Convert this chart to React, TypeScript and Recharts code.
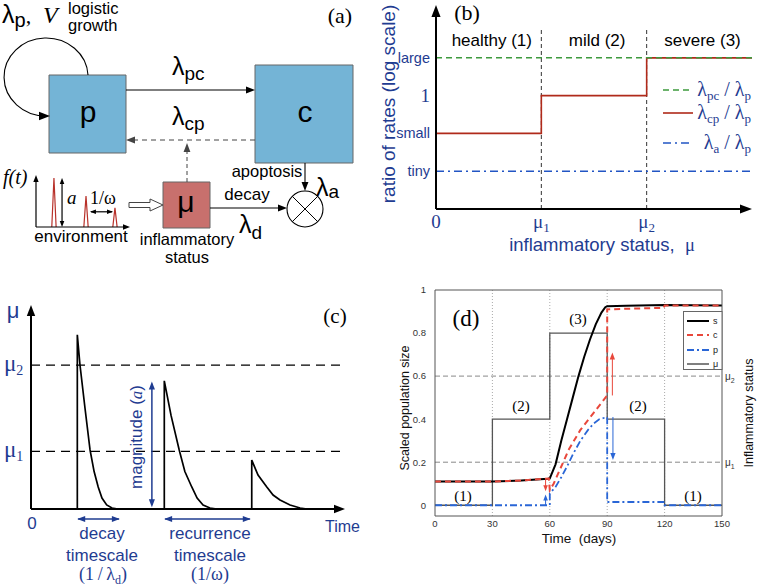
import React from 'react';
import {
  ComposedChart, Line, XAxis, YAxis, ReferenceLine, ReferenceDot, ReferenceArea, Legend,
} from 'recharts';

const W = 757;
const H = 588;
const SANS = '"Liberation Sans", Arial, Helvetica, sans-serif';
const SERIF = '"Liberation Serif", "Times New Roman", serif';
const NAVY = '#1f3c91';
const GREEN = '#3d9a3d';
const DARKRED = '#b02a1a';
const BBLUE = '#2255c4';
const DRED = '#e8473b';
const DBLUE = '#2a66d6';
const BOXBLUE = '#74b4d6';
const BOXRED = '#c8706d';

// ---------------- Panel (b) data ----------------
const bMu = [0, 1, 2, 3];
const bRatioPc = [10, 10, 10, 10];
const bRatioCp = [0.1, 1, 10, 10];
const bRatioA = [0.01, 0.01, 0.01, 0.01];
const bTicksY = [0.01, 0.1, 1, 10];
const bTickLabelsY = ['tiny', 'small', '1', 'large'];
const bTicksX = [0, 1, 2];
const bRegionLabels = ['healthy (1)', 'mild (2)', 'severe (3)'];
const bRegionCenters = [0.53, 1.53, 2.53];

// ---------------- Panel (c) data ----------------
const cTime = [0, 1.475, 1.475, 1.56, 1.72, 1.88, 2.01, 2.14, 2.26, 2.41, 2.58, 2.77,
  4.245, 4.245, 4.46, 4.72, 4.9, 5.12, 5.29, 5.48, 5.7, 5.92,
  7.03, 7.03, 7.23, 7.51, 7.71, 7.93, 8.25, 8.57, 8.79, 9.6];
const cMu = [0, 0, 1.21, 1.0, 0.7, 0.41, 0.26, 0.153, 0.076, 0.028, 0.007, 0,
  0, 0.89, 0.65, 0.41, 0.26, 0.153, 0.076, 0.028, 0.007, 0,
  0, 0.34, 0.236, 0.153, 0.097, 0.063, 0.028, 0.007, 0, 0];
const cThresholds = [0.4, 1.0];

// ---------------- Panel (a) environment inset ----------------
const ftT = [1.68, 1.91, 2.14, 3.5, 5.09, 5.32, 5.55, 7.0, 8.17, 8.4, 8.63];
const ftV = [0, 1.0, 0, null, 0, 0.63, 0, null, 0, 0.39, 0];

// ---------------- Panel (d) data ----------------
const dTicksX = [0, 30, 60, 90, 120, 150];
const dTicksY = [0, 0.2, 0.4, 0.6, 0.8, 1];
const dMuT = [0, 30, 60, 90, 120, 150];
const dMuV = [0, 0.4, 0.8, 0.4, 0, 0];
const dST = [0, 30, 45, 59, 60, 63, 66, 69, 72, 75, 78, 81, 84, 87, 89, 90, 100, 120, 150];
const dSV = [0.11, 0.11, 0.115, 0.123, 0.125, 0.19, 0.3, 0.4, 0.5, 0.6, 0.69, 0.77, 0.84, 0.895, 0.92, 0.925, 0.927, 0.93, 0.928];
const dCT = [0, 30, 45, 59.5, 60, 62, 65, 70, 76, 83, 90, 90, 100, 119.5, 120, 150];
const dCV = [0.11, 0.11, 0.115, 0.124, 0.07, 0.1, 0.16, 0.26, 0.35, 0.43, 0.51, 0.91, 0.913, 0.917, 0.928, 0.928];
const dPT = [0, 60, 60, 63, 66, 69, 72, 76, 80, 83, 86, 90, 90, 120, 120, 150];
const dPV = [0, 0, 0.055, 0.085, 0.13, 0.18, 0.235, 0.3, 0.35, 0.38, 0.4, 0.41, 0.015, 0.015, 0, 0];
const dThresholds = [0.2, 0.6];
const dRightLabels = ['1', '2'];

// ---------------- helpers ----------------
function txt(key: string, x: number, y: number, content: React.ReactNode, attrs: Record<string, any> = {}, rot = 0) {
  return (
    <ReferenceDot
      key={key} x={x} y={y} r={0} ifOverflow="visible"
      shape={(p: any) => (
        <text
          x={p.cx} y={p.cy} fontFamily={SANS} fontSize={17} fill="#000"
          transform={rot ? `rotate(${rot} ${p.cx} ${p.cy})` : undefined}
          {...attrs}
        >{content}</text>
      )}
    />
  );
}

function seg(key: string, x1: number, y1: number, x2: number, y2: number, stroke = '#000', width = 1, dash?: string) {
  return (
    <ReferenceLine
      key={key} segment={[{ x: x1, y: y1 }, { x: x2, y: y2 }]}
      stroke={stroke} strokeWidth={width} strokeDasharray={dash} ifOverflow="visible"
    />
  );
}

function head(key: string, x: number, y: number, angle: number, color = '#000', size = 9) {
  return (
    <ReferenceDot
      key={key} x={x} y={y} r={0} ifOverflow="visible"
      shape={(p: any) => (
        <polygon
          points={`0,0 ${-size},${-size * 0.38} ${-size},${size * 0.38}`}
          transform={`translate(${p.cx},${p.cy}) rotate(${angle})`}
          fill={color}
        />
      )}
    />
  );
}

const layer: React.CSSProperties = { position: 'absolute', left: 0, top: 0 };

// ---------------- Panel (b) ----------------
function BYTick(p: any) {
  const v = p.payload.value;
  let idx = 0;
  bTicksY.forEach((t, i) => { if (Math.abs(Math.log10(t) - Math.log10(v)) < 0.01) idx = i; });
  const lab = bTickLabelsY[idx];
  const num = lab === '1';
  return (
    <text x={p.x} y={p.y} dy="0.35em" textAnchor="end" fill={NAVY}
      fontFamily={num ? SERIF : SANS} fontSize={num ? 19 : 14.5}>{lab}</text>
  );
}
function BXTick(p: any) {
  const v = p.payload.value;
  if (v === 0) {
    return <text x={p.x} y={p.y} dy="0.71em" textAnchor="middle" fill={NAVY} fontFamily={SERIF} fontSize={19}>0</text>;
  }
  return (
    <text x={p.x} y={p.y} dy="0.71em" textAnchor="middle" fill={NAVY} fontFamily={SERIF} fontSize={19}>
      μ<tspan fontSize={13} dy={4}>{v}</tspan>
    </text>
  );
}

function PanelB() {
  const data = bMu.map((m, i) => ({ m, pc: bRatioPc[i], cp: bRatioCp[i], a: bRatioA[i] }));
  return (
    <div style={layer}>
      <ComposedChart width={W} height={H} data={data} margin={{ top: 5, right: 5, bottom: 349, left: 380 }}>
        <XAxis type="number" dataKey="m" domain={[0, 3]} ticks={bTicksX} axisLine={false} tickLine={false}
          height={30} tickMargin={0} tick={BXTick} allowDataOverflow />
        <YAxis type="number" scale="log" domain={[0.001, 250]} ticks={bTicksY} width={56} axisLine={false}
          tickLine={false} tickMargin={0} tick={BYTick} allowDataOverflow />
        {seg('v1', 1, 0.001, 1, 61, '#333', 1, '4 3')}
        {seg('v2', 2, 0.001, 2, 61, '#333', 1, '4 3')}
        <Line dataKey="cp" type="stepAfter" stroke={DARKRED} strokeWidth={1.6} dot={false} isAnimationActive={false} />
        <Line dataKey="pc" type="linear" stroke={GREEN} strokeWidth={1.5} strokeDasharray="6 4" dot={false} isAnimationActive={false} />
        <Line dataKey="a" type="linear" stroke={BBLUE} strokeWidth={1.5} strokeDasharray="8 4 2 4" dot={false} isAnimationActive={false} />
        {seg('bya', 0, 0.001, 0, 180, '#000', 2)}
        {head('byh', 0, 250, -90, '#000', 12)}
        {seg('bxa', 0, 0.001, 2.93, 0.001, '#000', 2)}
        {head('bxh', 3, 0.001, 0, '#000', 12)}
        {bRegionLabels.map((l, i) => txt('reg' + i, bRegionCenters[i], 20.6, l, { textAnchor: 'middle', fontSize: 17 }))}
        <Legend
          layout="horizontal" verticalAlign="middle" align="center"
          wrapperStyle={{ position: 'absolute', left: 660, top: 78, width: 97, height: 88, margin: 0 }}
          content={() => (
            <svg width={97} height={88} style={{ display: 'block' }}>
              <line x1={3} x2={33} y1={12} y2={12} stroke={GREEN} strokeWidth={1.5} strokeDasharray="6 4" />
              <text x={91} y={18} textAnchor="end" fontFamily={SERIF} fontSize={20} fill={NAVY}>
                λ<tspan fontSize={13} dy={4}>pc</tspan><tspan dy={-4}>{' / λ'}</tspan><tspan fontSize={13} dy={4}>p</tspan>
              </text>
              <line x1={3} x2={33} y1={35} y2={35} stroke={DARKRED} strokeWidth={1.6} />
              <text x={91} y={41} textAnchor="end" fontFamily={SERIF} fontSize={20} fill={NAVY}>
                λ<tspan fontSize={13} dy={4}>cp</tspan><tspan dy={-4}>{' / λ'}</tspan><tspan fontSize={13} dy={4}>p</tspan>
              </text>
              <line x1={3} x2={33} y1={65} y2={65} stroke={BBLUE} strokeWidth={1.5} strokeDasharray="8 4 2 4" />
              <text x={91} y={71} textAnchor="end" fontFamily={SERIF} fontSize={20} fill={NAVY}>
                λ<tspan fontSize={13} dy={4}>a</tspan><tspan dy={-4}>{' / λ'}</tspan><tspan fontSize={13} dy={4}>p</tspan>
              </text>
            </svg>
          )}
        />
      </ComposedChart>
    </div>
  );
}

// ---------------- Panel (c) ----------------
function PanelC() {
  const data = cTime.map((t, i) => ({ t, mu: cMu[i] }));
  return (
    <div style={layer}>
      <ComposedChart width={W} height={H} data={data} margin={{ top: 305, right: 412, bottom: 79, left: 31 }}>
        <XAxis type="number" dataKey="t" domain={[0, 10]} hide allowDataOverflow />
        <YAxis type="number" domain={[0, 1.417]} hide allowDataOverflow />
        {cThresholds.map((v, i) => (
          <ReferenceLine key={'th' + i} y={v} stroke="#000" strokeWidth={1.3} strokeDasharray="9 6" />
        ))}
        <Line dataKey="mu" type="linear" stroke="#000" strokeWidth={1.7} dot={false} isAnimationActive={false} />
        {seg('cya', 0, 0, 0, 1.36, '#000', 2)}
        {head('cyh', 0, 1.417, -90, '#000', 11)}
        {seg('cxa', 0, 0, 9.7, 0, '#000', 2)}
        {head('cxh', 10, 0, 0, '#000', 11)}
        {seg('mag', 3.85, 0.03, 3.85, 0.87, NAVY, 1.5)}
        {head('magt', 3.85, 0.885, -90, NAVY, 8)}
        {head('magb', 3.85, 0.012, 90, NAVY, 8)}
        {seg('dts', 1.5, -0.069, 2.8, -0.069, NAVY, 1.5)}
        {head('dtl', 1.47, -0.069, 180, NAVY, 8)}
        {head('dtr', 2.83, -0.069, 0, NAVY, 8)}
        {seg('rts', 4.27, -0.069, 6.97, -0.069, NAVY, 1.5)}
        {head('rtl', 4.24, -0.069, 180, NAVY, 8)}
        {head('rtr', 7.0, -0.069, 0, NAVY, 8)}
      </ComposedChart>
    </div>
  );
}

// ---------------- environment inset of panel (a) ----------------
function EnvInset() {
  const data = ftT.map((t, i) => ({ t, f: ftV[i] }));
  return (
    <div style={layer}>
      <ComposedChart width={W} height={H} data={data} margin={{ top: 175, right: 627, bottom: 361, left: 36 }}>
        <XAxis type="number" dataKey="t" domain={[0, 10]} hide allowDataOverflow />
        <YAxis type="number" domain={[0, 1.06]} hide allowDataOverflow />
        <Line dataKey="f" type="linear" stroke="#b8312a" strokeWidth={1.2} dot={false} connectNulls={false} isAnimationActive={false} />
        {seg('fx', 0, 0, 9.4, 0, '#000', 1.2)}
        {head('fxh', 10, 0, 0, '#000', 7)}
        {seg('fy', 0, 0, 0, 0.95, '#000', 1.2)}
        {head('fyh', 0, 1.06, -90, '#000', 7)}
        {seg('fa', 2.77, 0.08, 2.77, 0.92, '#000', 1.2)}
        {head('fat', 2.77, 1.0, -90, '#000', 6)}
        {head('fab', 2.77, 0.0, 90, '#000', 6)}
        {seg('fw', 5.85, 0.31, 8.1, 0.31, '#000', 1.2)}
        {head('fwl', 5.74, 0.31, 180, '#000', 6)}
        {head('fwr', 8.19, 0.31, 0, '#000', 6)}
      </ComposedChart>
    </div>
  );
}

// ---------------- Panel (d) ----------------
function DRightTick(p: any) {
  const idx = dThresholds.findIndex((v) => Math.abs(v - p.payload.value) < 1e-6);
  return (
    <text x={p.x} y={p.y} dy="0.35em" textAnchor="start" fontFamily={SANS} fontSize={10} fill="#333">
      μ<tspan fontSize={7} dy={3}>{dRightLabels[idx]}</tspan>
    </text>
  );
}

function PanelD() {
  const mu = dMuT.map((t, i) => ({ t, v: dMuV[i] }));
  const s = dST.map((t, i) => ({ t, v: dSV[i] }));
  const c = dCT.map((t, i) => ({ t, v: dCV[i] }));
  const p = dPT.map((t, i) => ({ t, v: dPV[i] }));
  const tickStyle = { fontSize: 9.5, fill: '#333', fontFamily: SANS };
  return (
    <div style={layer}>
      <ComposedChart width={W} height={H} margin={{ top: 290, right: 5, bottom: 52, left: 395 }}>
        <XAxis type="number" dataKey="t" domain={[0, 150]} ticks={dTicksX} axisLine={{ stroke: '#555' }}
          tickLine={false} tickSize={3} tickMargin={1} height={20} tick={tickStyle} allowDataOverflow />
        <YAxis type="number" domain={[-0.05, 1]} ticks={dTicksY} width={40} axisLine={{ stroke: '#555' }}
          tickLine={false} tickSize={3} tickMargin={6} tick={tickStyle} allowDataOverflow />
        <YAxis yAxisId="r" orientation="right" type="number" domain={[-0.05, 1]} ticks={dThresholds} width={30}
          axisLine={{ stroke: '#555' }} tickLine={false} tickSize={3} tickMargin={0} tick={DRightTick} allowDataOverflow />
        {[30, 60, 90, 120].map((x) => (
          <ReferenceLine key={'g' + x} x={x} stroke="#aaa" strokeDasharray="1 2" />
        ))}
        {dThresholds.map((y) => (
          <ReferenceLine key={'h' + y} y={y} stroke="#888" strokeDasharray="5 3" />
        ))}
        <ReferenceLine y={1} stroke="#555" />
        <Line data={mu} dataKey="v" type="stepAfter" stroke="#555" strokeWidth={1.3} dot={false} isAnimationActive={false} />
        <Line data={s} dataKey="v" type="linear" stroke="#000" strokeWidth={2} dot={false} isAnimationActive={false} />
        <Line data={c} dataKey="v" type="linear" stroke={DRED} strokeWidth={2} strokeDasharray="6 4" dot={false} isAnimationActive={false} />
        <Line data={p} dataKey="v" type="linear" stroke={DBLUE} strokeWidth={1.8} strokeDasharray="7 3 2 3" dot={false} isAnimationActive={false} />
        {seg('ar1', 57.8, 0.118, 57.8, 0.08, DRED, 1)}
        {head('ar1h', 57.8, 0.065, 90, DRED, 6)}
        {seg('ab1', 57.8, 0.0, 57.8, 0.035, DBLUE, 1)}
        {head('ab1h', 57.8, 0.05, -90, DBLUE, 6)}
        {seg('ar2', 92.7, 0.51, 92.7, 0.69, DRED, 1)}
        {head('ar2h', 92.7, 0.71, -90, DRED, 7)}
        {seg('ab2', 93, 0.41, 93, 0.23, DBLUE, 1)}
        {head('ab2h', 93, 0.21, 90, DBLUE, 7)}
        <Legend
          layout="horizontal" verticalAlign="middle" align="center"
          wrapperStyle={{ position: 'absolute', left: 683, top: 311, width: 40, height: 60, margin: 0 }}
          content={() => (
            <svg width={40} height={60} style={{ display: 'block' }}>
              <rect x={0.5} y={0.5} width={38.5} height={58} fill="#fff" stroke="#666" />
              <line x1={4} x2={26} y1={10} y2={10} stroke="#000" strokeWidth={2} />
              <text x={30} y={13} fontFamily={SANS} fontSize={9} fill="#222">s</text>
              <line x1={4} x2={26} y1={24} y2={24} stroke={DRED} strokeWidth={2} strokeDasharray="6 4" />
              <text x={30} y={27} fontFamily={SANS} fontSize={9} fill="#222">c</text>
              <line x1={4} x2={26} y1={39} y2={39} stroke={DBLUE} strokeWidth={1.8} strokeDasharray="7 3 2 3" />
              <text x={30} y={42} fontFamily={SANS} fontSize={9} fill="#222">p</text>
              <line x1={4} x2={26} y1={53} y2={53} stroke="#000" strokeWidth={1} />
              <text x={30} y={56} fontFamily={SANS} fontSize={9} fill="#222">μ</text>
            </svg>
          )}
        />
      </ComposedChart>
    </div>
  );
}

// ---------------- Diagram (a) and outer labels, in page pixel units ----------------
function Annotations() {
  const lam = (sub: string, big = 25, small = 19, dy = 5) => (
    <><tspan fontSize={big}>λ</tspan><tspan fontSize={small} dy={dy}>{sub}</tspan></>
  );
  return (
    <div style={layer}>
      <ComposedChart width={W} height={H} data={[{ x: 0, y: 0 }]} margin={{ top: 0, right: 0, bottom: 0, left: 0 }}>
        <XAxis type="number" dataKey="x" domain={[0, W]} hide allowDataOverflow />
        <YAxis type="number" dataKey="y" domain={[0, H]} reversed hide allowDataOverflow />
        {/* boxes */}
        <ReferenceArea x1={49} x2={126} y1={75} y2={153} fill={BOXBLUE} fillOpacity={1} stroke="#666" strokeWidth={1} ifOverflow="visible" />
        <ReferenceArea x1={255} x2={353} y1={65} y2={163} fill={BOXBLUE} fillOpacity={1} stroke="#666" strokeWidth={1} ifOverflow="visible" />
        <ReferenceArea x1={163} x2={210} y1={182} y2={228} fill={BOXRED} fillOpacity={1} stroke="#666" strokeWidth={1} ifOverflow="visible" />
        {/* arrows */}
        {seg('pc', 126, 90, 247, 90, '#000', 1.1)}
        {head('pch', 255, 90, 0)}
        {seg('cp', 255, 140, 134, 140, '#444', 1, '5 4')}
        {head('cph', 126, 140, 180, '#444')}
        {seg('mv', 187, 182, 187, 150, '#444', 1, '4 3')}
        {head('mvh', 187, 143, -90, '#444')}
        {seg('ap', 305, 163, 305, 184, '#000', 1.1)}
        {head('aph', 305, 191, 90)}
        {seg('dc', 210, 208, 279, 208, '#000', 1.1)}
        {head('dch', 287, 208, 0)}
        <ReferenceDot x={305} y={209} r={18} ifOverflow="visible"
          shape={(p: any) => (
            <g>
              <circle cx={p.cx} cy={p.cy} r={18} fill="#fff" stroke="#000" strokeWidth={1.1} />
              <line x1={p.cx - 12.7} y1={p.cy - 12.7} x2={p.cx + 12.7} y2={p.cy + 12.7} stroke="#000" strokeWidth={1} />
              <line x1={p.cx - 12.7} y1={p.cy + 12.7} x2={p.cx + 12.7} y2={p.cy - 12.7} stroke="#000" strokeWidth={1} />
            </g>
          )} />
        <ReferenceDot x={46} y={77} r={0} ifOverflow="visible"
          shape={(p: any) => (
            <path d={`M ${p.cx + 42} ${p.cy - 2} A 42 39 0 1 0 ${p.cx} ${p.cy + 39}`} fill="none" stroke="#000" strokeWidth={1.1} />
          )} />
        {head('looph', 50, 116, 0, '#000', 11)}
        <ReferenceDot x={129} y={205} r={0} ifOverflow="visible"
          shape={(p: any) => (
            <polygon
              points={`0,-2.5 21,-2.5 21,-6 34,0 21,6 21,2.5 0,2.5`}
              transform={`translate(${p.cx},${p.cy})`} fill="#fff" stroke="#444" strokeWidth={1}
            />
          )} />
        {/* panel (a) texts */}
        {txt('lpv', 2, 23, <>{lam('p', 25, 20, 4)}<tspan fontSize={22} dy={-4} fontFamily={SERIF}>,</tspan><tspan x={43} fontSize={24} fontFamily={SERIF} fontStyle="italic">V</tspan></>)}
        {txt('log1', 68, 14, 'logistic', { fontSize: 16.5 })}
        {txt('log2', 68, 31, 'growth', { fontSize: 16.5 })}
        {txt('pl', 88, 122, 'p', { fontSize: 30, textAnchor: 'middle' })}
        {txt('cl', 305, 122, 'c', { fontSize: 30, textAnchor: 'middle' })}
        {txt('ml', 186, 212, 'μ', { fontSize: 30, textAnchor: 'middle' })}
        {txt('lpc', 172, 75, lam('pc'))}
        {txt('lcp', 172, 125, lam('cp'))}
        {txt('ft', 3, 184, 'f(t)', { fontFamily: SERIF, fontStyle: 'italic', fontSize: 20 })}
        {txt('fa', 67, 204, 'a', { fontFamily: SERIF, fontStyle: 'italic', fontSize: 19 })}
        {txt('fw', 90, 204, '1/ω', { fontFamily: SERIF, fontSize: 18 })}
        {txt('env', 81, 242, 'environment', { textAnchor: 'middle' })}
        {txt('inf1', 187, 245, 'inflammatory', { textAnchor: 'middle', fontSize: 16.5 })}
        {txt('inf2', 187, 263, 'status', { textAnchor: 'middle', fontSize: 16.5 })}
        {txt('apo', 267, 177, 'apoptosis', { textAnchor: 'middle', fontSize: 16.5 })}
        {txt('la', 316, 196, lam('a', 25, 19, 2))}
        {txt('dec', 247, 200, 'decay', { textAnchor: 'middle' })}
        {txt('ld', 239, 233, lam('d', 25, 19, 6))}
        {txt('pa', 340, 23, '(a)', { fontFamily: SERIF, fontSize: 22, textAnchor: 'middle' })}
        {/* panel (b) texts */}
        {txt('pb', 467, 20, '(b)', { fontFamily: SERIF, fontSize: 22, textAnchor: 'middle' })}
        {txt('byl', 395, 104, 'ratio of rates (log scale)', { fontSize: 19, textAnchor: 'middle', fill: NAVY }, -90)}
        {txt('bxl', 602, 251, <>{'inflammatory status,\u00a0\u00a0'}<tspan fontFamily={SERIF}>μ</tspan></>, { fontSize: 18.5, textAnchor: 'middle', fill: NAVY })}
        {/* panel (c) texts */}
        {txt('cmu', 13, 318, 'μ', { fontSize: 22, fill: NAVY, textAnchor: 'middle' })}
        {txt('cmu2', 4, 371, <>μ<tspan fontSize={14} dy={4}>2</tspan></>, { fontFamily: SERIF, fontSize: 23, fill: NAVY })}
        {txt('cmu1', 4, 457, <>μ<tspan fontSize={14} dy={4}>1</tspan></>, { fontFamily: SERIF, fontSize: 23, fill: NAVY })}
        {txt('c0', 32, 529, '0', { fontSize: 17, fill: NAVY, textAnchor: 'middle' })}
        {txt('ctime', 325, 532, 'Time', { fontSize: 16, fill: NAVY })}
        {txt('pc', 335, 323, '(c)', { fontFamily: SERIF, fontSize: 21, textAnchor: 'middle' })}
        {txt('dec1', 102, 539, 'decay', { textAnchor: 'middle', fill: NAVY })}
        {txt('dec2', 102, 561, 'timescale', { textAnchor: 'middle', fill: NAVY })}
        {txt('dec3', 103, 580, <>{'(1\u2009/\u2009λ'}<tspan fontSize={12} dy={4}>d</tspan><tspan dy={-4}>)</tspan></>, { textAnchor: 'middle', fill: NAVY, fontFamily: SERIF, fontSize: 18 })}
        {txt('rec1', 210, 539, 'recurrence', { textAnchor: 'middle', fill: NAVY })}
        {txt('rec2', 210, 561, 'timescale', { textAnchor: 'middle', fill: NAVY })}
        {txt('rec3', 210, 580, '(1/ω)', { textAnchor: 'middle', fill: NAVY, fontFamily: SERIF, fontSize: 18 })}
        {txt('magt', 142, 437, <>{'magnitude ('}<tspan fontFamily={SERIF} fontStyle="italic">a</tspan>)</>, { textAnchor: 'middle', fill: NAVY, fontSize: 17 }, -90)}
        {/* panel (d) texts */}
        {txt('dd', 466, 326, '(d)', { fontFamily: SERIF, fontSize: 23, textAnchor: 'middle' })}
        {txt('d3', 578, 324, '(3)', { fontFamily: SERIF, fontSize: 15, textAnchor: 'middle' })}
        {txt('d2a', 521, 411, '(2)', { fontFamily: SERIF, fontSize: 15, textAnchor: 'middle' })}
        {txt('d2b', 638, 411, '(2)', { fontFamily: SERIF, fontSize: 15, textAnchor: 'middle' })}
        {txt('d1a', 463, 501, '(1)', { fontFamily: SERIF, fontSize: 15, textAnchor: 'middle' })}
        {txt('d1b', 693, 501, '(1)', { fontFamily: SERIF, fontSize: 15, textAnchor: 'middle' })}
        {txt('dyl', 409, 408, 'Scaled population size', { fontSize: 12.5, textAnchor: 'middle', fill: '#111' }, -90)}
        {txt('dyr', 753, 413, 'Inflammatory status', { fontSize: 12.5, textAnchor: 'middle', fill: '#111' }, -90)}
        {txt('dxl', 579, 543, 'Time\u00a0\u00a0(days)', { fontSize: 13.5, textAnchor: 'middle', fill: '#111' })}
      </ComposedChart>
    </div>
  );
}

export default function App() {
  return (
    <div style={{ position: 'absolute', left: 0, top: 0, width: W, height: H, background: '#fff', overflow: 'hidden' }}>
      <PanelB />
      <PanelC />
      <PanelD />
      <EnvInset />
      <Annotations />
    </div>
  );
}
